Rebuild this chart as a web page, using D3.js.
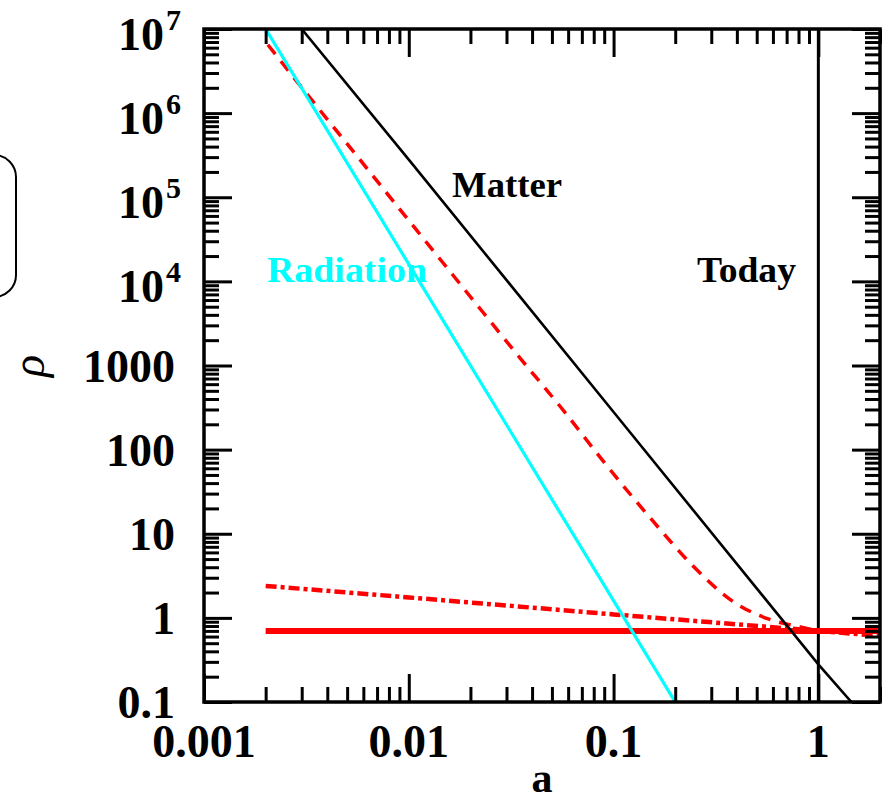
<!DOCTYPE html>
<html>
<head>
<meta charset="utf-8">
<script src="https://cdn.jsdelivr.net/npm/d3@7"></script>
<style>
  html, body { margin: 0; padding: 0; background: #fff; }
  svg { display: block; }
  text { font-family: "Liberation Serif", "Times New Roman", serif; }
</style>
</head>
<body>
<svg id="chart" width="883" height="803"></svg>
<script>
// ---------- data ----------
const xDomain = [0.001, 2];
const yDomain = [0.1, 1e7];

const xTickLabels = ["0.001", "0.01", "0.1", "1"];
const xTickValues = [0.001, 0.01, 0.1, 1];
const yTickValues = [0.1, 1, 10, 100, 1000, 1e4, 1e5, 1e6, 1e7];
const yTickLabels = ["0.1", "1", "10", "100", "1000", "10^4", "10^5", "10^6", "10^7"];

// Matter (black, solid)
const matterA   = [0.003, 0.01, 0.1, 1, 1.45];
const matterRho = [1e7, 2.8e5, 280, 0.28, 0.1];

// Radiation (cyan, solid)
const radA   = [0.002, 0.01, 0.1, 0.2];
const radRho = [1e7, 1.6e4, 1.6, 0.1];

// Cosmological constant (red, thick solid)
const lambdaA   = [0.002, 2];
const lambdaRho = [0.7, 0.7];

// Dynamical dark energy (red, dash-dot)
const deA   = [0.002, 0.01, 0.1, 1, 2];
const deRho = [2.4, 1.75, 1.1, 0.7, 0.61];

// Red dashed curve
const dashA   = [0.00205, 0.00275, 0.0036, 0.00564, 0.0108, 0.0166, 0.0225, 0.0352, 0.0564, 0.0894, 0.157, 0.245, 0.385, 0.564, 0.817, 1.0];
const dashRho = [6.5e6, 2.63e6, 1.16e6, 3.0e5, 4.2e4, 1.15e4, 4.6e3, 1.2e3, 300, 72, 13.8, 4.1, 1.55, 0.98, 0.78, 0.7];

const todayA = 1;

// ---------- layout ----------
const pL = 204, pR = 880, pT = 29, pB = 702;
const svg = d3.select("#chart");
svg.append("rect").attr("width", 883).attr("height", 803).attr("fill", "#fff");

const x = d3.scaleLog().domain(xDomain).range([pL, pR]);
const y = d3.scaleLog().domain(yDomain).range([pB, pT]);

// rounded box on the left (partly off-page)
svg.append("rect")
  .attr("x", -40).attr("y", 155).attr("width", 56).attr("height", 142)
  .attr("rx", 22).attr("ry", 22)
  .attr("fill", "none").attr("stroke", "#000").attr("stroke-width", 2);

// clip
svg.append("clipPath").attr("id", "plotclip")
  .append("rect").attr("x", pL).attr("y", pT).attr("width", pR - pL).attr("height", pB - pT);

const plot = svg.append("g").attr("clip-path", "url(#plotclip)");

const line = d3.line().x(d => x(d[0])).y(d => y(d[1]));
const zip = (a, b) => a.map((v, i) => [v, b[i]]);

// Today vertical line
plot.append("line")
  .attr("x1", x(todayA)).attr("x2", x(todayA))
  .attr("y1", pT).attr("y2", pB)
  .attr("stroke", "#000").attr("stroke-width", 3);

plot.append("path").datum(zip(lambdaA, lambdaRho)).attr("d", line)
  .attr("fill", "none").attr("stroke", "#ff0000").attr("stroke-width", 6);

plot.append("path").datum(zip(deA, deRho)).attr("d", line)
  .attr("fill", "none").attr("stroke", "#ff0000").attr("stroke-width", 4.5)
  .attr("stroke-dasharray", "11,4,4,4");

plot.append("path").datum(zip(dashA, dashRho))
  .attr("d", d3.line().curve(d3.curveMonotoneX).x(d => x(d[0])).y(d => y(d[1])))
  .attr("fill", "none").attr("stroke", "#ff0000").attr("stroke-width", 3.5)
  .attr("stroke-dasharray", "12,9");

plot.append("path").datum(zip(radA, radRho)).attr("d", line)
  .attr("fill", "none").attr("stroke", "#00ffff").attr("stroke-width", 3.2);

plot.append("path").datum(zip(matterA, matterRho)).attr("d", line)
  .attr("fill", "none").attr("stroke", "#000").attr("stroke-width", 2.6);

// ---------- axes (ticks inward on all four sides) ----------
const majorLen = 28, minorLen = 15, tickW = 3;
const isMajor = v => Math.abs(Math.log10(v) - Math.round(Math.log10(v))) < 1e-9;
const xt = x.ticks();
const yt = y.ticks();
const xMajor = xt.filter(isMajor), xMinor = xt.filter(v => !isMajor(v));
const yMajor = yt.filter(isMajor), yMinor = yt.filter(v => !isMajor(v));

function drawAxis(axisFn, scale, values, len, tx, ty) {
  const g = svg.append("g").attr("transform", `translate(${tx},${ty})`)
    .call(axisFn(scale).tickValues(values).tickSize(len).tickFormat(""));
  g.select(".domain").remove();
  g.selectAll(".tick line").attr("stroke", "#000").attr("stroke-width", tickW);
}
drawAxis(d3.axisTop, x, xMajor, majorLen, 0, pB);
drawAxis(d3.axisTop, x, xMinor, minorLen, 0, pB);
drawAxis(d3.axisBottom, x, xMajor, majorLen, 0, pT);
drawAxis(d3.axisBottom, x, xMinor, minorLen, 0, pT);
drawAxis(d3.axisRight, y, yMajor, majorLen, pL, 0);
drawAxis(d3.axisRight, y, yMinor, minorLen, pL, 0);
drawAxis(d3.axisLeft, y, yMajor, majorLen, pR, 0);
drawAxis(d3.axisLeft, y, yMinor, minorLen, pR, 0);

// frame
svg.append("rect")
  .attr("x", pL).attr("y", pT).attr("width", pR - pL).attr("height", pB - pT)
  .attr("fill", "none").attr("stroke", "#000").attr("stroke-width", 3.5);

// ---------- tick labels ----------
const fs = 46;
xTickValues.forEach((v, i) => {
  svg.append("text").attr("x", x(v)).attr("y", 757)
    .attr("text-anchor", "middle").attr("font-size", fs).attr("font-weight", "bold")
    .text(xTickLabels[i]);
});
yTickValues.forEach((v, i) => {
  const lab = yTickLabels[i];
  const yy = y(v);
  if (lab.includes("^")) {
    const [base, ex] = lab.split("^");
    svg.append("text").attr("x", 164).attr("y", yy + 21)
      .attr("text-anchor", "end").attr("font-size", fs).attr("font-weight", "bold").text(base);
    svg.append("text").attr("x", 166).attr("y", yy + 1)
      .attr("text-anchor", "start").attr("font-size", 30).attr("font-weight", "bold").text(ex);
  } else {
    svg.append("text").attr("x", 175).attr("y", yy + 16)
      .attr("text-anchor", "end").attr("font-size", fs).attr("font-weight", "bold").text(lab);
  }
});

// axis titles
svg.append("text").attr("x", 542).attr("y", 792)
  .attr("text-anchor", "middle").attr("font-size", 42).attr("font-weight", "bold").text("a");
svg.append("text").attr("transform", "translate(44,366) rotate(-90)")
  .attr("text-anchor", "middle").attr("font-size", 46).attr("font-style", "italic").text("ρ");

// annotations
function note(txt, xx, yy, w, color) {
  svg.append("text").attr("x", xx).attr("y", yy)
    .attr("font-size", 35).attr("font-weight", "bold").attr("fill", color)
    .attr("textLength", w).attr("lengthAdjust", "spacingAndGlyphs").text(txt);
}
note("Matter", 452, 197, 110, "#000");
note("Radiation", 267, 282, 160, "#00ffff");
note("Today", 697, 282, 99, "#000");
</script>
</body>
</html>
